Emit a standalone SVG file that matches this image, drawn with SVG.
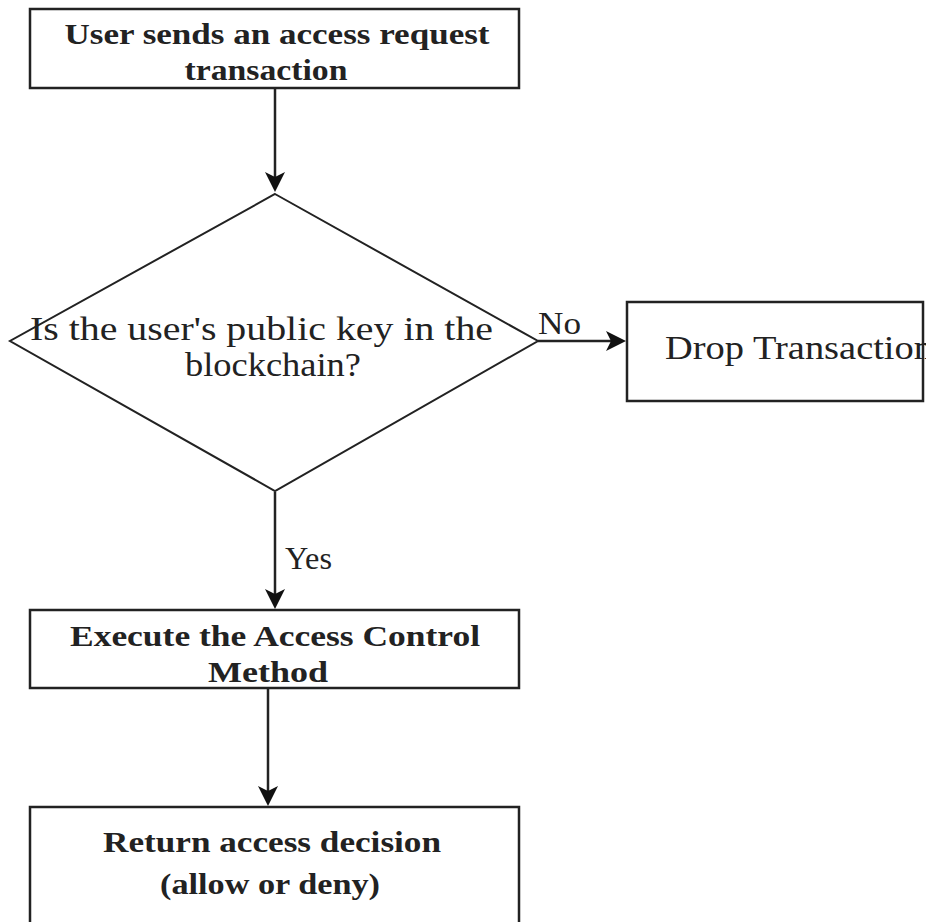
<svg xmlns="http://www.w3.org/2000/svg" width="926" height="922" viewBox="0 0 926 922">
<defs>
<style>
.box{fill:#fff;stroke:#222;stroke-width:2.5}
.c{fill:none;stroke:#222;stroke-width:2.5}
</style>
</defs>
<rect width="926" height="922" fill="#fff"/>
<g id="connectors" font-family="Liberation Serif, serif" font-size="32" fill="#222">
<line class="c" x1="275" y1="89" x2="275" y2="180"/>
<path d="M265,172 L275,192 L285,172 L275,177 z" fill="#111"/>
<line class="c" x1="538" y1="341" x2="615" y2="341"/>
<path d="M606,331 L626,341 L606,351 L611,341 z" fill="#111"/>
<text x="538" y="334" textLength="43" lengthAdjust="spacingAndGlyphs">No</text>
<line class="c" x1="275" y1="492" x2="275" y2="598"/>
<path d="M265,589 L275,609 L285,589 L275,594 z" fill="#111"/>
<text x="285" y="569" textLength="47" lengthAdjust="spacingAndGlyphs">Yes</text>
<line class="c" x1="268" y1="689" x2="268" y2="795"/>
<path d="M258,786 L268,806 L278,786 L268,791 z" fill="#111"/>
</g>
<g id="n1" font-family="Liberation Serif, serif" font-size="30" font-weight="bold" fill="#222">
<rect class="box" x="30" y="9" width="489" height="79"/>
<text x="277" y="44" text-anchor="middle" textLength="425" lengthAdjust="spacingAndGlyphs">User sends an access request</text>
<text x="266" y="80" text-anchor="middle" textLength="163" lengthAdjust="spacingAndGlyphs">transaction</text>
</g>
<g id="n2" font-family="Liberation Serif, serif" font-size="33" fill="#222">
<polygon class="box" points="275,194 538,341 275,491 10,341" style="stroke-width:2"/>
<text x="30" y="340" textLength="463" lengthAdjust="spacingAndGlyphs">Is the user's public key in the</text>
<text x="185" y="376" textLength="176" lengthAdjust="spacingAndGlyphs">blockchain?</text>
</g>
<g id="n3" font-family="Liberation Serif, serif" font-size="33" fill="#222">
<rect class="box" x="627" y="302" width="296" height="99"/>
<text x="665" y="359" textLength="268" lengthAdjust="spacingAndGlyphs">Drop Transaction</text>
</g>
<g id="n4" font-family="Liberation Serif, serif" font-size="30" font-weight="bold" fill="#222">
<rect class="box" x="30" y="610" width="489" height="78"/>
<text x="275" y="646" text-anchor="middle" textLength="410" lengthAdjust="spacingAndGlyphs">Execute the Access Control</text>
<text x="268" y="682" text-anchor="middle" textLength="120" lengthAdjust="spacingAndGlyphs">Method</text>
</g>
<g id="n5" font-family="Liberation Serif, serif" font-size="30" font-weight="bold" fill="#222">
<rect class="box" x="30" y="807" width="489" height="125"/>
<text x="272" y="852" text-anchor="middle" textLength="338" lengthAdjust="spacingAndGlyphs">Return access decision</text>
<text x="270" y="894" text-anchor="middle" textLength="220" lengthAdjust="spacingAndGlyphs">(allow or deny)</text>
</g>
</svg>
